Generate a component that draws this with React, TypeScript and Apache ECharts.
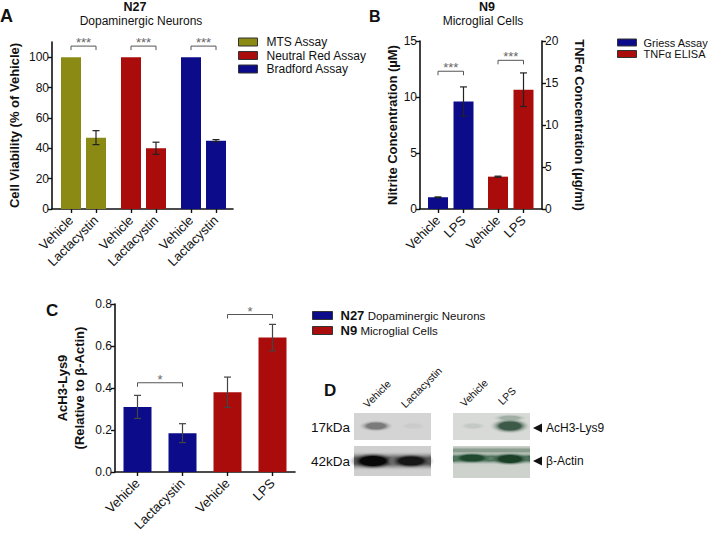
import React, { useEffect, useRef } from "react";
import * as echarts from "echarts";

// ---------- DATA ----------
// Panel A: N27 dopaminergic neurons, cell viability (% of vehicle)
const aTreatments = ["Vehicle", "Lactacystin"];
const aAssays = ["MTS Assay", "Neutral Red Assay", "Bradford Assay"];
const aMeans = [
  [100, 47],
  [100, 40],
  [100, 45],
];
const aErrors = [
  [0, 4.6],
  [0, 4.0],
  [0, 0.7],
];
const aSignif = ["***", "***", "***"];
const aBracketLevel = [107.3, 107.3, 107.3];
const aTicks = [0, 20, 40, 60, 80, 100];

// Panel B: N9 microglial cells
const bTreatments = ["Vehicle", "LPS"];
const bAssays = ["Griess Assay", "TNFα ELISA"];
const bMeans = [
  [1.05, 9.6],
  [3.85, 14.2],
];
const bErrors = [
  [0.03, 1.3],
  [0.06, 2.0],
];
const bSignif = ["***", "***"];
const bBracketLevel = [12.3, 17.7];

// Panel C: AcH3-Lys9 relative to beta-actin
const cCategories = ["Vehicle", "Lactacystin", "Vehicle", "LPS"];
const cGroups = ["N27 Dopaminergic Neurons", "N9 Microglial Cells"];
const cMeans = [
  [0.31, 0.185],
  [0.38, 0.64],
];
const cErrors = [
  [0.055, 0.045],
  [0.072, 0.063],
];
const cSignif = ["*", "*"];
const cBracketLevel = [0.425, 0.75];

// Panel D: western blot lanes
const dLanes = ["Vehicle", "Lactacystin", "Vehicle", "LPS"];
const dMarkers = ["17kDa", "42kDa"];
const dProteins = ["AcH3-Lys9", "β-Actin"];

// ---------- STYLE ----------
const FONT = "'Liberation Sans', Arial, sans-serif";
const OLIVE = "#8a8a14";
const RED = "#aa0c0c";
const BLUE = "#0c0c8a";
const aColors = [OLIVE, RED, BLUE];
const bColors = [BLUE, RED];
const cColors = [BLUE, RED];

// slot layout (axis units) for grouped bars on value axes
const aSlot = (g: number, b: number) => 3.8 + g * 12 + b * 5;
const bSlot = (g: number, b: number) => 3.6 + g * 12 + b * 5.1;

const aPositions: number[] = [];
const aLabels: string[] = [];
aAssays.forEach((_, g) =>
  aTreatments.forEach((t, b) => {
    aPositions.push(aSlot(g, b));
    aLabels.push(t);
  })
);
const bPositions: number[] = [];
const bLabels: string[] = [];
bAssays.forEach((_, g) =>
  bTreatments.forEach((t, b) => {
    bPositions.push(bSlot(g, b));
    bLabels.push(t);
  })
);

const lookup = (positions: number[], labels: string[]) => (v: number) => {
  for (let i = 0; i < positions.length; i++)
    if (Math.abs(positions[i] - v) < 0.01) return labels[i];
  return "";
};

const axisLine = { show: true, lineStyle: { color: "#111", width: 1.6 } };
const axisTick = { show: true, length: 4, lineStyle: { color: "#111", width: 1.4 } };

function errRender(color: string) {
  return (params: any, api: any) => {
    const x = api.value(0);
    const m = api.value(1);
    const e = api.value(2);
    if (!e) return null;
    const t = api.coord([x, m + e]);
    const b = api.coord([x, m - e]);
    const cap = 3.5;
    const st = { stroke: color, lineWidth: 1.2 };
    return {
      type: "group",
      children: [
        { type: "line", shape: { x1: t[0], y1: t[1], x2: b[0], y2: b[1] }, style: st },
        { type: "line", shape: { x1: t[0] - cap, y1: t[1], x2: t[0] + cap, y2: t[1] }, style: st },
        { type: "line", shape: { x1: b[0] - cap, y1: b[1], x2: b[0] + cap, y2: b[1] }, style: st },
      ],
    };
  };
}

function bracketRender(marks: string[]) {
  return (params: any, api: any) => {
    const x1 = api.value(0);
    const x2 = api.value(1);
    const y = api.value(2);
    const p1 = api.coord([x1, y]);
    const p2 = api.coord([x2, y]);
    const d = 4;
    return {
      type: "group",
      children: [
        {
          type: "polyline",
          shape: {
            points: [
              [p1[0], p1[1] + d],
              [p1[0], p1[1]],
              [p2[0], p2[1]],
              [p2[0], p2[1] + d],
            ],
          },
          style: { stroke: "#555", lineWidth: 1, fill: null },
        },
        {
          type: "text",
          x: (p1[0] + p2[0]) / 2,
          y: p1[1] + 3,
          style: {
            text: marks[params.dataIndex],
            textAlign: "center",
            textVerticalAlign: "bottom",
            fontSize: 13,
            fontFamily: FONT,
            fill: "#666",
          },
        },
      ],
    };
  };
}

function blotBand(cx: number, cy: number, rx: number, ry: number, color: string, bg: string) {
  return {
    type: "ellipse",
    shape: { cx, cy, rx, ry },
    style: {
      fill: {
        type: "radial",
        x: 0.5,
        y: 0.5,
        r: 0.5,
        colorStops: [
          { offset: 0, color },
          { offset: 0.5, color },
          { offset: 1, color: bg },
        ],
      },
    },
  };
}

function blotRow(x: number, y: number, w: number, h: number, color: string, bg: string) {
  return {
    type: "rect",
    shape: { x, y, width: w, height: h },
    style: {
      fill: {
        type: "linear",
        x: 0,
        y: 0,
        x2: 0,
        y2: 1,
        colorStops: [
          { offset: 0, color: bg },
          { offset: 0.35, color },
          { offset: 0.65, color },
          { offset: 1, color: bg },
        ],
      },
    },
  };
}

function buildOption() {
  const series: any[] = [];

  // Panel A bars
  aAssays.forEach((name, g) => {
    series.push({
      name,
      type: "bar",
      xAxisIndex: 0,
      yAxisIndex: 0,
      barWidth: 20,
      barGap: "-100%",
      itemStyle: { color: aColors[g] },
      data: aTreatments.map((_, b) => [aSlot(g, b), aMeans[g][b]]),
    });
  });
  series.push({
    type: "custom",
    xAxisIndex: 0,
    yAxisIndex: 0,
    renderItem: errRender("#222"),
    data: aAssays.flatMap((_, g) => aTreatments.map((_, b) => [aSlot(g, b), aMeans[g][b], aErrors[g][b]])),
    z: 5,
  });
  series.push({
    type: "custom",
    xAxisIndex: 0,
    yAxisIndex: 0,
    encode: { x: [0, 1], y: 2 },
    renderItem: bracketRender(aSignif),
    data: aAssays.map((_, g) => [aSlot(g, 0), aSlot(g, 1), aBracketLevel[g]]),
  });

  // Panel B bars (Griess on left axis, TNF on right axis)
  bAssays.forEach((name, g) => {
    const yIdx = g === 0 ? 1 : 2;
    series.push({
      name,
      type: "bar",
      xAxisIndex: 1,
      yAxisIndex: yIdx,
      barWidth: 20,
      barGap: "-100%",
      itemStyle: { color: bColors[g] },
      data: bTreatments.map((_, b) => [bSlot(g, b), bMeans[g][b]]),
    });
    series.push({
      type: "custom",
      xAxisIndex: 1,
      yAxisIndex: yIdx,
      renderItem: errRender("#222"),
      data: bTreatments.map((_, b) => [bSlot(g, b), bMeans[g][b], bErrors[g][b]]),
      z: 5,
    });
    series.push({
      type: "custom",
      xAxisIndex: 1,
      yAxisIndex: yIdx,
      encode: { x: [0, 1], y: 2 },
      renderItem: bracketRender([bSignif[g]]),
      data: [[bSlot(g, 0), bSlot(g, 1), bBracketLevel[g]]],
    });
  });

  // Panel C bars
  cGroups.forEach((name, g) => {
    series.push({
      name,
      type: "bar",
      xAxisIndex: 2,
      yAxisIndex: 3,
      barWidth: 28,
      barGap: "-100%",
      itemStyle: { color: cColors[g] },
      data: cCategories.map((_, i) => (Math.floor(i / 2) === g ? cMeans[g][i % 2] : "-")),
    });
  });
  series.push({
    type: "custom",
    xAxisIndex: 2,
    yAxisIndex: 3,
    renderItem: errRender("#444"),
    data: cCategories.map((_, i) => [i, cMeans[Math.floor(i / 2)][i % 2], cErrors[Math.floor(i / 2)][i % 2]]),
    z: 5,
  });
  series.push({
    type: "custom",
    xAxisIndex: 2,
    yAxisIndex: 3,
    encode: { x: [0, 1], y: 2 },
    renderItem: bracketRender(cSignif),
    data: cGroups.map((_, g) => [g * 2, g * 2 + 1, cBracketLevel[g]]),
  });

  const tickLabel = { color: "#111", fontSize: 12, fontFamily: FONT };
  const catLabel = { color: "#111", fontSize: 13, fontFamily: FONT };
  const nameStyle = { color: "#111", fontSize: 13, fontWeight: "bold", fontFamily: FONT };

  const laneText = (text: string, x: number, y: number) => ({
    type: "text",
    x,
    y,
    rotation: Math.PI / 4,
    style: { text, fontSize: 10.5, fontFamily: FONT, fill: "#111", textAlign: "left", textVerticalAlign: "bottom" },
  });
  const letter = (text: string, x: number, y: number, size: number) => ({
    type: "text",
    x,
    y,
    style: { text, fontSize: size, fontWeight: "bold", fontFamily: FONT, fill: "#111" },
  });
  const title = (text: string, x: number, y: number, size: number, bold: boolean) => ({
    type: "text",
    x,
    y,
    style: {
      text,
      fontSize: size,
      fontWeight: bold ? "bold" : "normal",
      fontFamily: FONT,
      fill: "#111",
      textAlign: "center",
      textVerticalAlign: "top",
    },
  });

  const g1 = "rgba(212,212,212,0)";
  const g2 = "rgba(207,207,207,0)";
  const g3 = "rgba(215,218,214,0)";
  const g4 = "rgba(205,210,205,0)";

  const graphic: any[] = [
    letter("A", 0, 7, 18),
    letter("B", 369, 8, 16),
    letter("C", 46, 302, 17),
    letter("D", 324, 382, 17),
    title("N27", 135, 0, 12.5, true),
    title("Dopaminergic Neurons", 141, 15, 12, false),
    title("N9", 487, 0, 12.5, true),
    title("Microglial Cells", 483, 15, 12, false),

    // ---- Panel D western blots ----
    { type: "rect", shape: { x: 354, y: 413, width: 77, height: 27 }, style: { fill: "#d4d4d4" } },
    blotBand(376, 426, 18, 6, "#7a7a7a", g1),
    blotBand(413, 426, 14, 4, "#cbcbcb", g1),
    { type: "rect", shape: { x: 354, y: 446, width: 77, height: 30 }, style: { fill: "#cfcfcf" } },
    blotRow(354, 451, 77, 20, "#3a3a3a", g2),
    blotBand(373, 461, 25, 9, "#080808", g2),
    blotBand(411, 461, 24, 8, "#161616", g2),
    { type: "rect", shape: { x: 453, y: 413, width: 77, height: 27 }, style: { fill: "#d7dad6" } },
    blotBand(473, 426, 14, 4, "#c5c9c5", g3),
    blotBand(510, 418, 18, 4, "#a0aea4", g3),
    blotBand(510, 426, 21, 8, "#3d5a48", g3),
    { type: "rect", shape: { x: 453, y: 446, width: 77, height: 32 }, style: { fill: "#cdd2cd" } },
    blotRow(453, 446, 77, 9, "#8a9c8e", g4),
    blotRow(453, 452, 77, 13, "#2c5a3c", g4),
    blotBand(472, 458, 22, 6, "#1f4a30", g4),
    blotBand(510, 459, 22, 7, "#1a4028", g4),
    { type: "text", x: 350, y: 427, style: { text: dMarkers[0], fontSize: 13.5, fontFamily: FONT, fill: "#111", textAlign: "right", textVerticalAlign: "middle" } },
    { type: "text", x: 350, y: 461, style: { text: dMarkers[1], fontSize: 13.5, fontFamily: FONT, fill: "#111", textAlign: "right", textVerticalAlign: "middle" } },
    laneText(dLanes[0], 369, 410),
    laneText(dLanes[1], 407, 410),
    laneText(dLanes[2], 466, 409),
    laneText(dLanes[3], 504, 407),
    { type: "polygon", shape: { points: [[533, 428], [542, 423.5], [542, 432.5]] }, style: { fill: "#111" } },
    { type: "text", x: 546, y: 428, style: { text: dProteins[0], fontSize: 12, fontFamily: FONT, fill: "#111", textVerticalAlign: "middle" } },
    { type: "polygon", shape: { points: [[533, 461], [542, 456.5], [542, 465.5]] }, style: { fill: "#111" } },
    { type: "text", x: 546, y: 461, style: { text: dProteins[1], fontSize: 12, fontFamily: FONT, fill: "#111", textVerticalAlign: "middle" } },
  ];

  const legendBase = {
    orient: "vertical",
    icon: "rect",
    padding: 0,
    selectedMode: false,
    itemStyle: { borderColor: "#333", borderWidth: 1 },
  };

  return {
    animation: false,
    backgroundColor: "#ffffff",
    textStyle: { fontFamily: FONT },
    grid: [
      { left: 52, top: 42, width: 181, height: 167 },
      { left: 420, top: 41, width: 122, height: 168 },
      { left: 115, top: 304, width: 180, height: 168 },
    ],
    legend: [
      {
        ...legendBase,
        data: aAssays,
        left: 238,
        top: 36,
        itemWidth: 19,
        itemHeight: 8,
        itemGap: 1.5,
        textStyle: { fontSize: 12, color: "#111", fontFamily: FONT, padding: [0, 0, 0, 4] },
      },
      {
        ...legendBase,
        data: bAssays,
        left: 617,
        top: 37,
        itemWidth: 19,
        itemHeight: 7,
        itemGap: 0.5,
        textStyle: { fontSize: 11, color: "#111", fontFamily: FONT, padding: [0, 0, 0, 2] },
      },
      {
        ...legendBase,
        data: cGroups,
        left: 312,
        top: 309,
        itemWidth: 20,
        itemHeight: 8,
        itemGap: 2,
        formatter: (name: string) => {
          const parts = name.split(" ");
          return `{b|${parts[0]}} {n|${parts.slice(1).join(" ")}}`;
        },
        textStyle: {
          color: "#111",
          padding: [0, 0, 0, 3],
          rich: {
            b: { fontSize: 13, fontWeight: "bold", fontFamily: FONT, color: "#111" },
            n: { fontSize: 11.5, fontFamily: FONT, color: "#111" },
          },
        },
      },
    ],
    xAxis: [
      {
        type: "value",
        gridIndex: 0,
        min: 0,
        max: 36.2,
        splitLine: { show: false },
        axisLine,
        axisTick: { ...axisTick, customValues: aPositions },
        axisLabel: { ...catLabel, rotate: 45, margin: 9, customValues: aPositions, formatter: lookup(aPositions, aLabels) },
      },
      {
        type: "value",
        gridIndex: 1,
        min: 0,
        max: 24.4,
        splitLine: { show: false },
        axisLine,
        axisTick: { ...axisTick, customValues: bPositions },
        axisLabel: { ...catLabel, rotate: 45, margin: 9, customValues: bPositions, formatter: lookup(bPositions, bLabels) },
      },
      {
        type: "category",
        gridIndex: 2,
        data: cCategories,
        axisLine,
        axisTick: { ...axisTick, alignWithLabel: true },
        axisLabel: { ...catLabel, rotate: 45, margin: 9, interval: 0 },
      },
    ],
    yAxis: [
      {
        type: "value",
        gridIndex: 0,
        min: 0,
        max: 110,
        splitLine: { show: false },
        axisLine,
        axisTick: { ...axisTick, customValues: aTicks },
        axisLabel: { ...tickLabel, margin: 3, customValues: aTicks },
        name: "Cell Viability (% of Vehicle)",
        nameLocation: "middle",
        nameGap: 31,
        nameTextStyle: nameStyle,
      },
      {
        type: "value",
        gridIndex: 1,
        min: 0,
        max: 15,
        interval: 5,
        splitLine: { show: false },
        axisLine,
        axisTick,
        axisLabel: { ...tickLabel, margin: 3 },
        name: "Nitrite Concentration (µM)",
        nameLocation: "middle",
        nameGap: 21,
        nameTextStyle: nameStyle,
      },
      {
        type: "value",
        gridIndex: 1,
        position: "right",
        min: 0,
        max: 20,
        interval: 5,
        splitLine: { show: false },
        axisLine,
        axisTick,
        axisLabel: { ...tickLabel, margin: 3 },
        name: "TNFα Concentration (µg/ml)",
        nameLocation: "middle",
        nameGap: 31,
        nameRotate: -90,
        nameTextStyle: nameStyle,
      },
      {
        type: "value",
        gridIndex: 2,
        min: 0,
        max: 0.8,
        interval: 0.2,
        splitLine: { show: false },
        axisLine,
        axisTick,
        axisLabel: { ...tickLabel, margin: 3, formatter: (v: number) => v.toFixed(1) },
        name: "AcH3-Lys9\n(Relative to β-Actin)",
        nameLocation: "middle",
        nameGap: 27,
        nameTextStyle: { ...nameStyle, lineHeight: 17 },
      },
    ],
    series,
    graphic,
  };
}

export default function App() {
  const ref = useRef<HTMLDivElement>(null);
  useEffect(() => {
    document.body.style.margin = "0";
    if (!ref.current) return;
    const chart = echarts.init(ref.current, undefined, { renderer: "svg" });
    chart.setOption(buildOption() as any);
    return () => chart.dispose();
  }, []);
  return (
    <div
      ref={ref}
      style={{ position: "fixed", left: 0, top: 0, width: 714, height: 534, background: "#fff" }}
    />
  );
}
